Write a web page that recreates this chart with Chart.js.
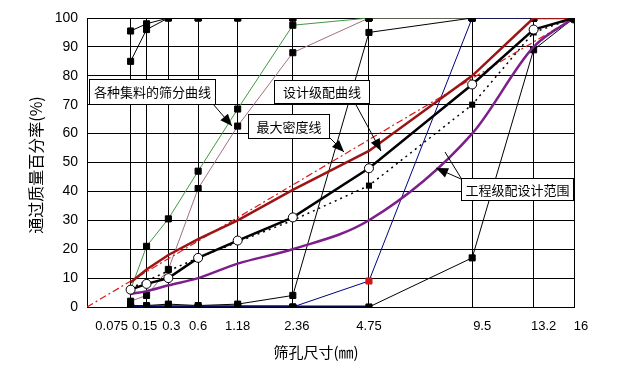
<!DOCTYPE html>
<html>
<head>
<meta charset="utf-8">
<script src="https://cdn.jsdelivr.net/npm/chart.js@4/dist/chart.umd.min.js"></script>
<style>
  html, body { margin: 0; padding: 0; background: #fff; }
  #wrap { width: 628px; height: 368px; }
</style>
</head>
<body>
<div id="wrap"><canvas id="c" width="628" height="368"></canvas></div>
<script>
// ---- data ----
const sieves      = [0.075, 0.15, 0.3, 0.6, 1.18, 2.36, 4.75, 9.5, 13.2, 16];
const sieveLabels = ['0.075', '0.15', '0.3', '0.6', '1.18', '2.36', '4.75', '9.5', '13.2', '16'];
const yTicks      = [0, 10, 20, 30, 40, 50, 60, 70, 80, 90, 100];

// aggregate sieving curves
const fillerA   = [95.5, 98, 100, 100, 100, 100, 100, 100, 100, 100];
const fillerB   = [85, 96, 100, 100, 100, 100, 100, 100, 100, 100];
const sandGreen = [6, 21, 30.5, 47, 68.5, 97.5, 100, 100, 100, 100];
const sandPink  = [2, 4, 13, 41, 62.6, 88, 100, 100, 100, 100];
const chips     = [0.5, 0.5, 1, 0.5, 1, 4, 95, 100, 100, 100];
const agg5to10  = [0, 0, 0, 0, 0, 0, 9, 100, 100, 100];
const agg10to15 = [0, 0, 0, 0, 0, 0, 0, 17, 89, 100];

// gradation curves
const upperLimit = [8.5, 13, 18, 23.5, 30, 40.5, 54, 80, 100, 100];
const lowerLimit = [4.5, 5.5, 7.5, 10, 15, 20, 30, 60, 90, 100];
const midRange   = [6.5, 9, 12.5, 17, 22.5, 30, 42, 70, 95, 100];
const design     = [6, 8, 10, 17, 23, 31, 48, 77, 96, 100];
const maxDensitySieves = [0, 16];
const maxDensity       = [0, 100];

// ---- helpers ----
const P = 0.45; // power-0.45 sieve scale
const px = d => Math.pow(d, P);
const pts = (vals, s = sieves) => vals.map((v, i) => ({ x: px(s[i]), y: v }));
const thickAtZero = (w, c1, c2) => ({
  borderWidth: ctx => (ctx.p0.parsed.y === 0 && ctx.p1.parsed.y === 0) ? w : 1,
  borderColor: ctx => (ctx.p0.parsed.y === 0 && ctx.p1.parsed.y === 0) ? c2 : c1
});
const sq = { pointStyle: 'rect', pointRadius: 4.3, pointBackgroundColor: '#000', pointBorderColor: '#000', pointBorderWidth: 1 };

const xLabelShift = [-19, -2, 3, 0, 0, 4, 0, 10, 10, 7];

const notes = [
  { text: '各种集料的筛分曲线', box: [89, 79, 126, 25], arrows: [[213, 104, 232, 126]] },
  { text: '最大密度线', box: [248, 114, 81, 24], arrows: [[328, 136, 344, 152]] },
  { text: '设计级配曲线', box: [274, 80, 95, 23], arrows: [[355, 103, 381, 151]] },
  { text: '工程级配设计范围', box: [461, 178, 112, 22], arrows: [[461, 179, 436, 168], [461, 178, 445, 152, true]] }
];

function arrow(ctx, x1, y1, x2, y2, noHead) {
  ctx.beginPath(); ctx.moveTo(x1, y1); ctx.lineTo(x2, y2); ctx.stroke();
  if (noHead) return;
  const a = Math.atan2(y2 - y1, x2 - x1), L = 12, W = 5;
  ctx.beginPath();
  ctx.moveTo(x2, y2);
  ctx.lineTo(x2 - L * Math.cos(a) + W * Math.sin(a), y2 - L * Math.sin(a) - W * Math.cos(a));
  ctx.lineTo(x2 - L * Math.cos(a) - W * Math.sin(a), y2 - L * Math.sin(a) + W * Math.cos(a));
  ctx.closePath(); ctx.fill();
}

const decor = {
  id: 'decor',
  afterDraw(chart) {
    const ctx = chart.ctx, xs = chart.scales.x;
    ctx.save();
    ctx.fillStyle = '#000'; ctx.strokeStyle = '#000'; ctx.lineWidth = 1;
    // x tick labels
    ctx.font = '13px "Liberation Sans", Arial, sans-serif';
    ctx.textAlign = 'center'; ctx.textBaseline = 'middle';
    sieveLabels.forEach((t, i) => ctx.fillText(t, xs.getPixelForValue(px(sieves[i])) + xLabelShift[i], 326));
    // axis titles
    ctx.font = '15px "Noto Sans CJK SC", sans-serif';
    ctx.fillText('筛孔尺寸(㎜)', 316, 352);
    ctx.save();
    ctx.translate(36, 165); ctx.rotate(-Math.PI / 2);
    ctx.font = '16px "Noto Sans CJK SC", sans-serif';
    ctx.fillText('通过质量百分率(%)', 0, 0);
    ctx.restore();
    // callouts
    ctx.font = '13px "Noto Sans CJK SC", sans-serif';
    notes.forEach(n => {
      const [x, y, w, h] = n.box;
      n.arrows.forEach(a => arrow(ctx, a[0], a[1], a[2], a[3], a[4]));
      ctx.fillStyle = '#fff'; ctx.fillRect(x, y, w, h);
      ctx.strokeRect(x + 0.5, y + 0.5, w, h);
      ctx.fillStyle = '#000';
      ctx.fillText(n.text, x + w / 2 + 0.5, y + h / 2 + 1);
    });
    ctx.restore();
  }
};

const datasets = [
  { data: pts(design), borderColor: '#000', borderWidth: 2.5, pointStyle: 'circle',
    pointRadius: design.map((v, i) => i === design.length - 1 ? 5 : 4.5),
    pointBackgroundColor: design.map((v, i) => i === design.length - 1 ? '#000' : '#fff'),
    pointBorderColor: '#000', pointBorderWidth: 1 },
  { data: pts(upperLimit), borderColor: '#9c1414', borderWidth: 2.5, pointRadius: 0 },
  { data: pts(lowerLimit), borderColor: '#7d1e8c', borderWidth: 2.5, pointRadius: 0, cubicInterpolationMode: 'monotone' },
  { data: pts(midRange), borderColor: '#000', borderWidth: 1.5, borderDash: [2, 4],
    pointStyle: 'rect', pointRadius: midRange.map((v, i) => (i >= 6 && i <= 8) ? 4.3 : 0),
    pointBackgroundColor: '#000', pointBorderWidth: 0 },
  { data: pts(maxDensity, maxDensitySieves), borderColor: '#e01818', borderWidth: 1.2, borderDash: [7, 3, 2, 3], pointRadius: 0 },
  { data: pts(agg5to10), ...sq, borderColor: '#000080', borderWidth: 1,
    pointBackgroundColor: agg5to10.map((v, i) => i === 6 ? '#d01818' : '#000'),
    pointBorderColor: agg5to10.map((v, i) => i === 6 ? '#d01818' : '#000'),
    segment: thickAtZero(3, '#000080', '#0a0a5a') },
  { data: pts(agg10to15), ...sq, borderColor: '#000', borderWidth: 1, segment: thickAtZero(3, '#000', '#0a0a40') },
  { data: pts(chips), ...sq, borderColor: '#000', borderWidth: 1 },
  { data: pts(sandPink), ...sq, borderColor: '#a07080', borderWidth: 1 },
  { data: pts(sandGreen), ...sq, borderColor: '#3f9a3f', borderWidth: 1 },
  { data: pts(fillerA), ...sq, borderColor: '#000', borderWidth: 1 },
  { data: pts(fillerB), ...sq, borderColor: '#000', borderWidth: 1 }
];

new Chart(document.getElementById('c'), {
  type: 'line',
  data: { datasets },
  plugins: [decor],
  options: {
    responsive: false, animation: false, devicePixelRatio: 1,
    layout: { padding: { left: 0, right: 54, top: 18, bottom: 0 } },
    plugins: { legend: { display: false }, tooltip: { enabled: false } },
    elements: { line: { tension: 0, fill: false } },
    scales: {
      x: {
        type: 'linear', min: 0, max: px(16),
        afterBuildTicks: s => { s.ticks = [0, ...sieves].map(d => ({ value: px(d) })); },
        afterFit: s => { s.height = 61; },
        ticks: { display: false },
        grid: { color: '#000', lineWidth: 1, drawTicks: false },
        border: { color: '#000', width: 1 }
      },
      y: {
        type: 'linear', min: 0, max: 100,
        afterBuildTicks: s => { s.ticks = yTicks.map(v => ({ value: v })); },
        afterFit: s => { s.width = 87; },
        ticks: { color: '#000', padding: 9, font: { family: '"Liberation Sans", Arial, sans-serif', size: 14 } },
        grid: { color: '#000', lineWidth: 1, drawTicks: false },
        border: { color: '#000', width: 1 }
      }
    }
  }
});
</script>
</body>
</html>
